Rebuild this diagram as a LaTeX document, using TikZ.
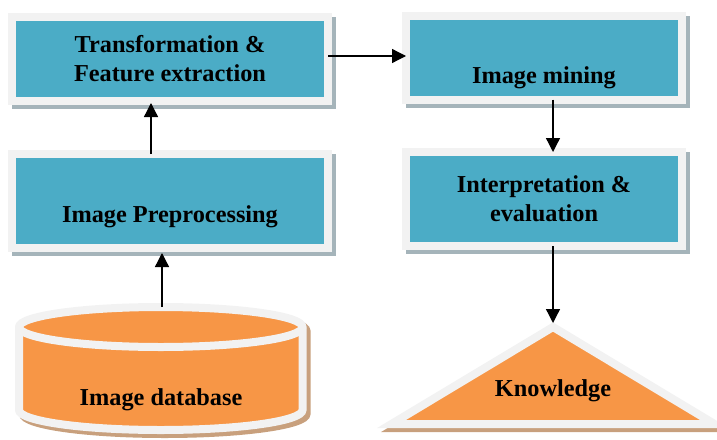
\documentclass[tikz,border=0pt]{standalone}
\usepackage{xcolor}
\usepackage{fontspec}
\setmainfont{Liberation Serif}
\usepackage{tikz}
\usetikzlibrary{arrows.meta,shadows}

\definecolor{boxblue}{RGB}{75,172,198}
\definecolor{dborange}{RGB}{247,150,70}
\definecolor{rim}{RGB}{242,242,242}
\definecolor{blueshadow}{RGB}{165,180,186}
\definecolor{orangeshadow}{RGB}{200,160,125}

\tikzset{
    caption/.style={font=\bfseries\fontsize{24.3}{29}\selectfont},
    stage/.style={caption, rectangle, fill=boxblue, draw=rim, line width=8pt,
        outer sep=0pt, inner sep=0pt, align=center,
        drop shadow={shadow xshift=4pt, shadow yshift=-4pt, fill=blueshadow,
            draw=blueshadow, opacity=1}},
    flow/.style={line width=1.3pt, -{Triangle[length=14pt,width=14pt]}}
}

\begin{document}
\begin{tikzpicture}[x=1pt,y=-1pt]
    \useasboundingbox (0,0) rectangle (717,439);
    \node[stage, minimum width=316pt, minimum height=84pt](tf) at (170,59){Transformation \&\\Feature extraction};
    \node[stage, minimum width=316pt, minimum height=94pt, text height=43pt, text depth=0pt](pp) at (170,201){Image Preprocessing};
    \node[stage, minimum width=276pt, minimum height=83.5pt, text height=52pt, text depth=0pt](im) at (544,57.75){Image mining};
    \node[stage, minimum width=276pt, minimum height=94pt](ip) at (544,199){Interpretation \&\\evaluation};

    \foreach \s/\f/\d in {4/orangeshadow/orangeshadow, 0/dborange/rim}{
        \filldraw[shift={(\s,\s)}, fill=\f, draw=\d, line width=8pt]
            (19,327) -- (19,410) arc[start angle=180, end angle=360, x radius=141.75pt, y radius=20pt]
            -- (302.5,327) arc[start angle=0, end angle=180, x radius=141.75pt, y radius=20pt] -- cycle;
        \filldraw[shift={(\s,\s)}, fill=\f, draw=\d, line width=8pt]
            (553,327) -- (714.5,424) -- (391.5,424) -- cycle;
    }
    \draw[rim, line width=8pt] (19,327) arc[start angle=180, end angle=360, x radius=141.75pt, y radius=20pt];
    \coordinate(dbtop) at (162,307);
    \coordinate(apex) at (553,327);
    \node[caption](db) at (161,400){Image database};
    \node[caption](kn) at (553,391){Knowledge};

    \draw[flow] ([yshift=3pt]tf.east) -- ([yshift=3pt]tf.east -| im.west);
    \draw[flow, shorten >=2pt] ([xshift=-19pt]pp.north) -- ([xshift=-19pt]tf.south);
    \draw[flow, shorten >=5pt] (dbtop) -- (dbtop |- pp.south);
    \draw[flow] ([xshift=9pt]im.south) -- ([xshift=9pt]ip.north);
    \draw[flow, shorten >=4pt] ([xshift=9pt]ip.south) -- (apex);
\end{tikzpicture}
\end{document}
